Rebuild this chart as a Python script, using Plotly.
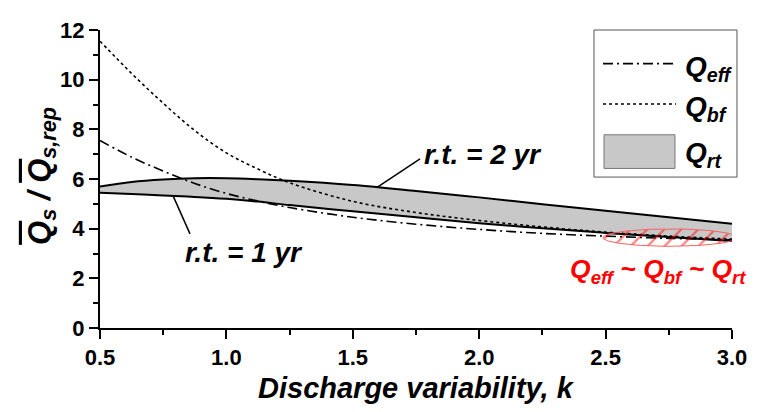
import plotly.graph_objects as go
import numpy as np

# ---- data ----
k = [0.5, 0.625, 0.75, 0.875, 1.0, 1.125, 1.25, 1.5, 1.75, 2.0, 2.25, 2.5, 2.75, 3.0]
q_rt_2yr = [5.70, 5.88, 5.98, 6.03, 6.03, 5.99, 5.93, 5.76, 5.52, 5.26, 4.98, 4.72, 4.46, 4.20]
q_rt_1yr = [5.45, 5.40, 5.34, 5.28, 5.20, 5.09, 4.95, 4.70, 4.46, 4.22, 4.02, 3.83, 3.66, 3.50]
q_eff = [7.55, 6.88, 6.32, 5.82, 5.42, 5.11, 4.85, 4.46, 4.18, 3.97, 3.81, 3.70, 3.61, 3.55]
q_bf = [11.55, 10.25, 9.05, 7.95, 7.05, 6.40, 5.85, 5.10, 4.65, 4.33, 4.07, 3.86, 3.70, 3.58]

x_ticks = [0.5, 1.0, 1.5, 2.0, 2.5, 3.0]
y_ticks = [0, 2, 4, 6, 8, 10, 12]

# convergence region (ellipse) centre and half-sizes
conv_center = (2.755, 3.64)
conv_half = (0.265, 0.35)

FONT = "Liberation Sans, Arial, sans-serif"

fig = go.Figure()

fig.add_trace(go.Scatter(x=k, y=q_rt_1yr, mode="lines", line=dict(color="black", width=2, shape="spline"),
                         showlegend=False))
fig.add_trace(go.Scatter(x=k, y=q_rt_2yr, mode="lines", line=dict(color="black", width=2, shape="spline"),
                         fill="tonexty", fillcolor="#c8c8c8", showlegend=False))
fig.add_trace(go.Scatter(x=k, y=q_eff, mode="lines",
                         line=dict(color="black", width=1.6, shape="spline", dash="10px,4px,2px,4px"),
                         showlegend=False))
fig.add_trace(go.Scatter(x=k, y=q_bf, mode="lines",
                         line=dict(color="black", width=1.6, shape="spline", dash="3px,3px"),
                         showlegend=False))

# ellipse outline of the convergence zone
t = np.linspace(0, 2 * np.pi, 100)
ex = conv_center[0] + conv_half[0] * np.cos(t)
ey = conv_center[1] + conv_half[1] * np.sin(t)
fig.add_trace(go.Scatter(x=ex, y=ey, mode="lines", line=dict(color="#ff6060", width=1),
                         fill="toself", fillcolor="rgba(0,0,0,0)",
                         fillpattern=dict(shape="/", fgcolor="red", bgcolor="rgba(0,0,0,0)",
                                          size=12, solidity=0.18),
                         showlegend=False, cliponaxis=False))

annotations = []
# y axis title
annotations.append(dict(
    text='<b><i><span style="text-decoration:overline">Q</span><sub>s</sub> / '
         '<span style="text-decoration:overline">Q</span><sub>s,rep</sub></i></b>',
    xref="paper", yref="paper", x=-0.092, y=0.51, textangle=-90, showarrow=False,
    font=dict(size=31, color="black", family=FONT), xanchor="center", yanchor="middle"))
# x axis title
annotations.append(dict(text="<b><i>Discharge variability, k</i></b>", xref="paper", yref="paper",
                        x=0.5, y=-0.2, showarrow=False, xanchor="center", yanchor="middle",
                        font=dict(size=29, color="black", family=FONT)))
# curve labels
annotations.append(dict(text="<b><i>r.t. = 2 yr</i></b>", x=1.775, y=6.97, xref="x", yref="y",
                        showarrow=False, xanchor="left", yanchor="middle",
                        font=dict(size=28, color="black", family=FONT)))
annotations.append(dict(text="<b><i>r.t. = 1 yr</i></b>", x=0.83, y=3.06, xref="x", yref="y",
                        showarrow=False, xanchor="left", yanchor="middle",
                        font=dict(size=28, color="black", family=FONT)))
annotations.append(dict(text="<b><i>Q<sub>eff</sub> ~ Q<sub>bf</sub> ~ Q<sub>rt</sub></i></b>",
                        x=2.35, y=2.3, xref="x", yref="y", showarrow=False, xanchor="left",
                        yanchor="middle", font=dict(size=26.5, color="red", family=FONT)))

shapes = []
# leader lines
shapes.append(dict(type="line", xref="x", yref="y", x0=1.596, y0=5.66, x1=1.766, y1=6.81,
                   line=dict(color="black", width=1.5)))
shapes.append(dict(type="line", xref="x", yref="y", x0=0.79, y0=5.30, x1=0.856, y1=3.79,
                   line=dict(color="black", width=1.5)))

# manual legend
shapes.append(dict(type="rect", xref="paper", yref="paper", x0=0.7816, x1=1.0079, y0=0.5065, y1=1.0,
                   line=dict(color="#555555", width=1), fillcolor="white", layer="above"))
shapes.append(dict(type="line", xref="paper", yref="paper", x0=0.7959, x1=0.9114, y0=0.887, y1=0.887,
                   line=dict(color="black", width=1.6, dash="10px,4px,2px,4px")))
shapes.append(dict(type="line", xref="paper", yref="paper", x0=0.7959, x1=0.9114, y0=0.7516, y1=0.7516,
                   line=dict(color="black", width=1.6, dash="3px,3px")))
shapes.append(dict(type="rect", xref="paper", yref="paper", x0=0.7975, x1=0.9098, y0=0.5355, y1=0.6484,
                   line=dict(color="#777777", width=1), fillcolor="#c8c8c8"))
for label, yy in [("eff", 0.872), ("bf", 0.735), ("rt", 0.583)]:
    annotations.append(dict(text=f"<b><i>Q<sub>{label}</sub></i></b>", xref="paper", yref="paper",
                            x=0.922, y=yy, xanchor="left", yanchor="middle", showarrow=False,
                            font=dict(size=28, color="black", family=FONT)))

# page body has an 8px default margin: figure is shrunk so the plot lands at the reference pixels
fig.update_layout(
    width=750, height=404,
    margin=dict(l=92, r=26, t=10, b=84),
    paper_bgcolor="white", plot_bgcolor="white",
    font=dict(family=FONT, color="black"),
    shapes=shapes, annotations=annotations,
    showlegend=False,
)
fig.update_xaxes(range=[0.5, 3.0], tickvals=x_ticks, ticktext=[f"<b>{v:.1f}</b>" for v in x_ticks],
                 showline=True, linecolor="black", linewidth=2, ticks="outside", ticklen=9, tickwidth=2,
                 tickcolor="black", showgrid=False, zeroline=False, ticklabeloverflow="allow",
                 tickfont=dict(size=22, family=FONT, color="black"),
                 minor=dict(ticks="outside", dtick=0.25, ticklen=5, tickwidth=1.5, tickcolor="black",
                            showgrid=False))
fig.update_yaxes(range=[0, 12], tickvals=y_ticks, ticktext=[f"<b>{v}</b>" for v in y_ticks],
                 showline=True, linecolor="black", linewidth=2, ticklabeloverflow="allow",
                 ticks="outside", ticklen=9, tickwidth=2, tickcolor="black", showgrid=False, zeroline=False,
                 tickfont=dict(size=22, family=FONT, color="black"),
                 minor=dict(ticks="outside", dtick=1, ticklen=5, tickwidth=1.5, tickcolor="black",
                            showgrid=False))

fig.write_html("out.html")
